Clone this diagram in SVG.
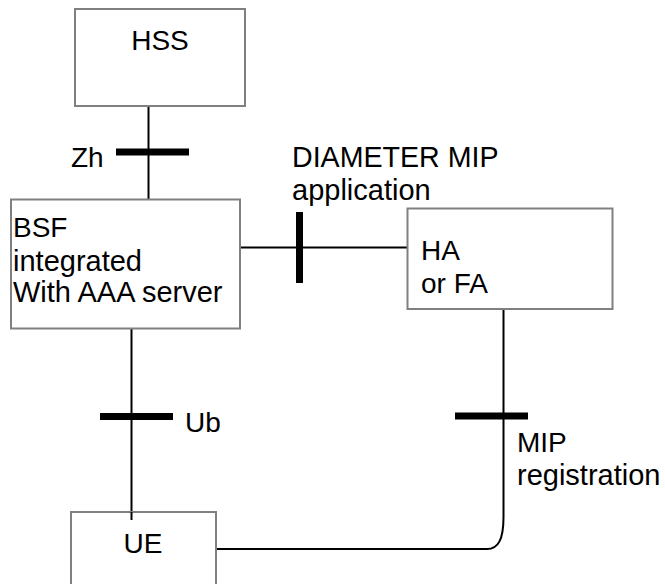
<svg xmlns="http://www.w3.org/2000/svg" width="665" height="584" viewBox="0 0 665 584">
<style>
.box{fill:#fff;stroke:#808080;stroke-width:2}
.ln{fill:none;stroke:#000;stroke-width:2}
.bar{fill:none;stroke:#000;stroke-width:7}
text{font-family:"Liberation Sans",Arial,sans-serif;font-size:28px;fill:#000}
text.lc{font-size:29px}
</style>
<rect width="665" height="584" fill="#fff"/>
<g id="connectors">
<path class="ln" d="M148.5 106 V200"/>
<path class="bar" d="M116 152 H189"/>
<path class="ln" d="M240 247.5 H407"/>
<path class="bar" d="M299.5 212 V283"/>
<path class="ln" d="M131.5 328 V520"/>
<path class="bar" d="M100 416.5 H173"/>
<path class="ln" d="M503.5 309 V517 C503.5 540 498 549 487 549 H216"/>
<path class="bar" d="M455 416 H528"/>
</g>
<g id="labels">
<text x="71" y="167">Zh</text>
<text x="292" y="167" style="font-size:28.6px">DIAMETER MIP</text>
<text class="lc" x="292" y="200">application</text>
<text x="185" y="432">Ub</text>
<text x="517" y="452">MIP</text>
<text class="lc" x="517" y="485">registration</text>
</g>
<g id="hss">
<rect class="box" x="75" y="9" width="170" height="97"/>
<text x="160" y="50" text-anchor="middle">HSS</text>
</g>
<g id="bsf">
<rect class="box" x="11" y="199.5" width="229" height="129"/>
<text x="13" y="237">BSF</text>
<text class="lc" x="13" y="271">integrated</text>
<text class="lc" x="13" y="302">With AAA server</text>
</g>
<g id="ha">
<rect class="box" x="407.5" y="208.5" width="205" height="100.5"/>
<text x="421" y="260">HA</text>
<text x="421" y="293">or FA</text>
</g>
<g id="ue">
<rect class="box" x="71" y="512" width="145" height="100"/>
<text x="143" y="553" text-anchor="middle">UE</text>
</g>
<path class="ln" d="M131.5 512 V520"/>
</svg>
